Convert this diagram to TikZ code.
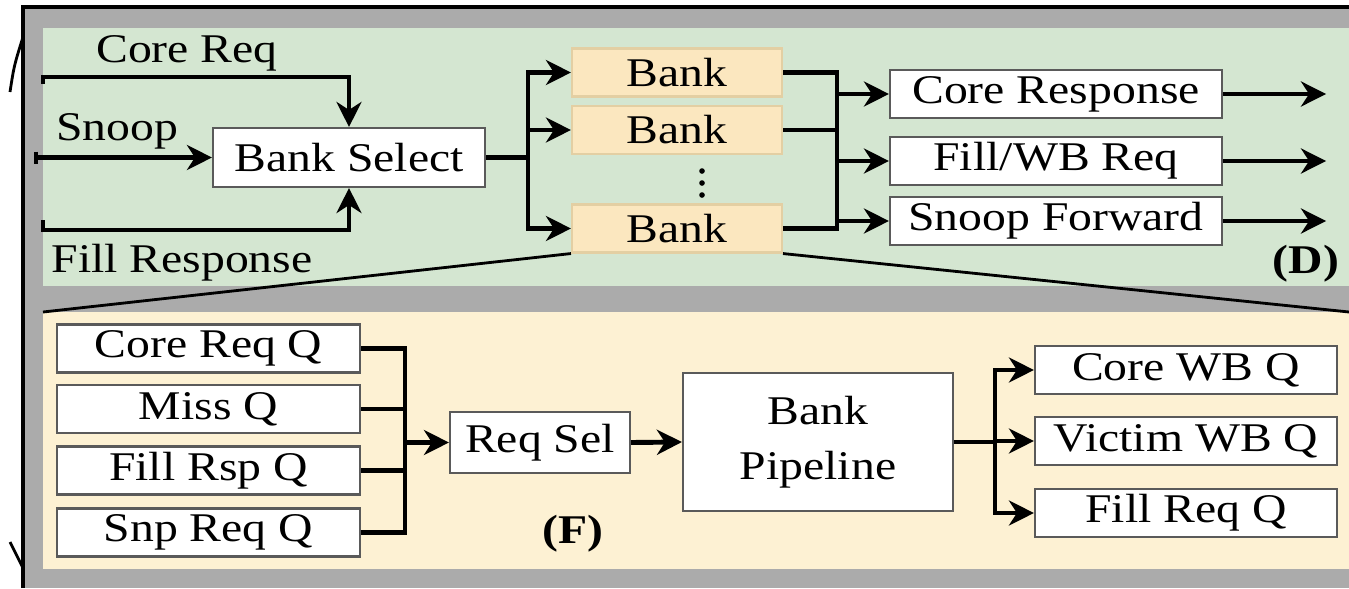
\documentclass[tikz,border=0pt]{standalone}
\usepackage{fontspec}
\setmainfont{Liberation Serif}[FakeStretch=1.17]
\usepackage{tikz}
\usetikzlibrary{arrows.meta,calc}
\definecolor{frame}{HTML}{ABABAB}
\definecolor{sage}{HTML}{D4E6D1}
\definecolor{cream}{HTML}{FDF1D3}
\definecolor{bankfill}{HTML}{FBE7BF}
\definecolor{bankline}{HTML}{E3CFA3}
\definecolor{edge}{HTML}{5A5A5A}
\newcommand{\figfont}{\fontsize{11.6}{15.6}\selectfont}
\tikzset{
  box/.style={draw=edge,fill=white,line width=0.6pt,inner sep=0pt,align=center,font=\figfont},
  bankbox/.style={box,draw=bankline,fill=bankfill,minimum width=21mm,minimum height=4.8mm},
  outbox/.style={box,minimum width=33.2mm,minimum height=4.8mm},
  qbox/.style={box,minimum width=30.3mm,minimum height=4.8mm},
  wbbox/.style={box,minimum width=30.2mm,minimum height=4.8mm},
  wire/.style={line width=1.4pt,line join=miter},
  arrow/.style={wire,-{Stealth[length=2.5mm,width=2.5mm,inset=0.8mm]}},
  lbl/.style={font=\figfont,inner sep=0pt,anchor=base},
  tag/.style={lbl,font=\figfont\bfseries},
  zoomline/.style={line width=0.8pt},
}

\begin{document}
\begin{tikzpicture}[x=0.1mm,y=-0.1mm]
  \useasboundingbox (0,0) rectangle (1349,588);
  % frame and the two panels
  \fill[frame] (23,7) rectangle (1349,588);
  \draw[line width=1.2pt] (23,588) -- (23,7) -- (1349,7);
  \fill[sage] (43,28) rectangle (1349,286);
  \fill[cream] (43,312) rectangle (1349,569);
  \draw[line width=0.8pt] (10,92) .. controls (14,66) .. (23,37);
  \draw[line width=0.8pt] (10,542) -- (23,568);

  % (D) bank select and banks
  \node[box,minimum width=27.2mm,minimum height=5.9mm] (bsel) at (349,157.5) {Bank Select};
  \node[lbl] (lcreq) at (187,62) {Core Req};
  \node[lbl] (lsnoop) at (117,140) {Snoop};
  \node[lbl] (lfill) at (182,272) {Fill Response};
  \coordinate (creq) at (43,84);
  \coordinate (snp) at (36,157.5);
  \coordinate (fresp) at (43,220);
  \draw[arrow] (creq) -- ++(0,-7) -| (bsel.north);
  \draw[arrow] (snp) -- (bsel.west);
  \draw[wire] (snp) ++(0,-6) -- ++(0,12);
  \draw[arrow] (fresp) -- ++(0,10) -| (bsel.south);

  \foreach \n/\yy in {bank1/72.5,bank2/130,bank3/228.5}
    \node[bankbox] (\n) at (677,\yy) {Bank};
  \foreach \k in {0,1,2}
    \fill (702,171+\k*12) circle (0.8pt);
  \coordinate (split) at (528,157.5);
  \draw[wire] (bsel.east) -- (split);
  \draw[arrow] (split) |- (bank1.west);
  \draw[arrow] (split) |- (bank3.west);
  \draw[arrow] (bank2.west -| split) -- (bank2.west);

  \foreach \n/\t/\yy in {resp/{Core Response}/94,fwb/{Fill/WB Req}/161,sfwd/{Snoop Forward}/221}
    \node[outbox] (\n) at (1056,\yy) {\t};
  \coordinate (mrg) at (837,161);
  \draw[wire] (bank1.east) -| (mrg |- bank3.east) -- (bank3.east);
  \draw[wire] (bank2.east) -- (bank2.east -| mrg);
  \foreach \n in {resp,fwb,sfwd} {
    \draw[arrow] (\n.west -| mrg) -- (\n.west);
    \coordinate (\n-out) at ($(\n.east)+(103,0)$);
    \draw[arrow] (\n.east) -- (\n-out);
  }
  \node[tag] (tagd) at (1306,273) {(D)};

  % zoom into one bank
  \coordinate (ylt) at (43,312);
  \coordinate (yrt) at (1349,312);
  \draw[zoomline] (bank3.south west) -- (ylt);
  \draw[zoomline] (bank3.south east) -- (yrt);

  % (E) bank internals
  \foreach \n/\t/\yy in {cq/{Core Req Q}/348.5,mq/{Miss Q}/409,fq/{Fill Rsp Q}/470.5,sq/{Snp Req Q}/532.5}
    \node[qbox] (\n) at (208.5,\yy) {\t};
  \node[box,minimum width=18mm,minimum height=6.1mm] (rsel) at (540,442.5) {Req Sel};
  \node[box,minimum width=27mm,minimum height=13.8mm] (pipe) at (818,442) {Bank\\Pipeline};
  \coordinate (qbus) at (405,442.5);
  \draw[wire] (cq.east) -| (qbus |- sq.east) -- (sq.east);
  \draw[wire] (mq.east) -- (mq.east -| qbus);
  \draw[wire] (fq.east) -- (fq.east -| qbus);
  \draw[arrow] (qbus) -- (rsel.west);
  \draw[arrow] (rsel.east) -- (pipe.west);

  \foreach \n/\t/\yy in {cwb/{Core WB Q}/370,vwb/{Victim WB Q}/441,frq/{Fill Req Q}/513}
    \node[wbbox] (\n) at (1186,\yy) {\t};
  \coordinate (psplit) at (995,442);
  \draw[wire] (pipe.east) -- (psplit);
  \draw[arrow] (psplit) |- (cwb.west);
  \draw[arrow] (psplit) |- (frq.west);
  \draw[arrow] (vwb.west -| psplit) -- (vwb.west);
  \node[tag] (tagf) at (573,543) {(F)};
\end{tikzpicture}
\end{document}
